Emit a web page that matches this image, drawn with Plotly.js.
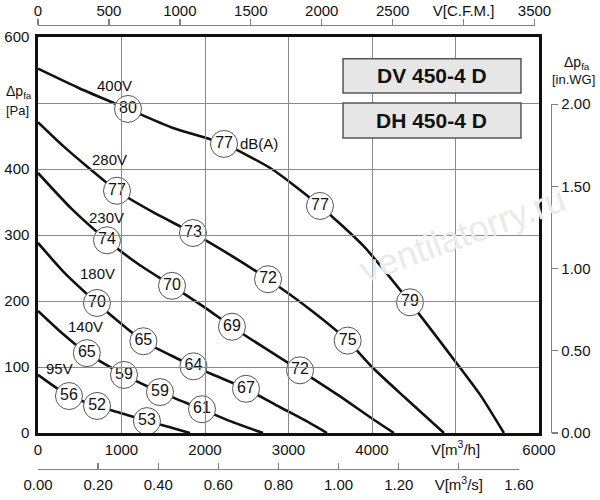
<!DOCTYPE html>
<html>
<head>
<meta charset="utf-8">
<script src="https://cdn.plot.ly/plotly-3.0.1.min.js"></script>
<style>
  html, body { margin: 0; padding: 0; background: #fff; }
  #chart { width: 600px; height: 500px; }
</style>
</head>
<body>
<div id="chart"></div>
<script>
// fan curves, flow in m3/h, pressure in Pa
var x400 = [0, 500, 1078, 1600, 2228, 2800, 3377, 3900, 4455, 5000, 5300, 5580];
var y400 = [552, 522, 491, 463, 438, 400, 344, 283, 198, 108, 57, 0];
var x280 = [0, 300, 623, 946, 1400, 1856, 2300, 2755, 3250, 3709, 4000, 4400, 4862];
var y280 = [471, 435, 400, 367, 333, 303, 270, 233, 188, 140, 100, 53, 0];
var x230 = [0, 400, 826, 1200, 1605, 2000, 2323, 2700, 3138, 3600, 4000, 4263];
var y230 = [394, 340, 292, 256, 223, 190, 161, 130, 95, 57, 22, 0];
var x180 = [0, 300, 706, 1000, 1262, 1600, 1862, 2200, 2491, 2900, 3200, 3461];
var y180 = [288, 245, 197, 165, 139, 117, 101, 83, 67, 39, 19, 0];
var x140 = [0, 300, 585, 1030, 1461, 1964, 2300, 2695];
var y140 = [185, 150, 121, 88, 62, 36, 18, 0];
var x95 = [0, 371, 707, 1000, 1305, 1600, 1820];
var y95 = [88, 56, 41, 30, 18, 8, 0];

// sound level marks dB(A)
var dbX = [1078, 2228, 3377, 4455, 946, 1856, 2755, 3709, 826, 1605, 2323, 3138,
           706, 1262, 1862, 2491, 585, 1030, 1461, 1964, 371, 707, 1305];
var dbY = [491, 438, 344, 198, 367, 303, 233, 140, 292, 223, 161, 95,
           197, 139, 101, 67, 121, 88, 62, 36, 56, 41, 18];
var dbVal = [80, 77, 77, 79, 77, 73, 72, 75, 74, 70, 69, 72,
             70, 65, 64, 67, 65, 59, 59, 61, 56, 52, 53];

// voltage labels
var voltText = ['400V', '280V', '230V', '180V', '140V', '95V'];
var voltX = [922, 862, 826, 707, 563, 263];
var voltY = [527, 414, 327, 242, 162, 98];

// axis ticks
var mhVals = [0, 1000, 2000, 3000, 4000, 5000, 6000];
var mhText = ['0', '1000', '2000', '3000', '4000', 'V[m<sup>3</sup>/h]', '6000'];
var paVals = [0, 100, 200, 300, 400, 500, 600];
var paText = ['0', '100', '200', '300', '400', ' ', '600'];
var cfmVals = [0, 500, 1000, 1500, 2000, 2500, 3000, 3500];
var cfmText = ['0', '500', '1000', '1500', '2000', '2500', 'V[C.F.M.]', '3500'];
var msVals = [0, 0.2, 0.4, 0.6, 0.8, 1.0, 1.2, 1.4, 1.6];
var msText = ['0.00', '0.20', '0.40', '0.60', '0.80', '1.00', '1.20', 'V[m<sup>3</sup>/s]', '1.60'];
var wgVals = [0, 0.5, 1.0, 1.5, 2.0];
var wgText = ['0.00', '0.50', '1.00', '1.50', '2.00'];

var FONT = 'Arial, "Liberation Sans", sans-serif';

// pixel -> paper helpers (paper spans x 38..551, y 25..469)
function pxX(p) { return (p - 38) / 513; }
function pxY(p) { return (469 - p) / 444; }

var curves = [[x400, y400], [x280, y280], [x230, y230], [x180, y180], [x140, y140], [x95, y95]];
var data = [];

// empty traces so the extra axes get drawn (added first, below the curves)
data.push({ x: [null], y: [null], xaxis: 'x2', yaxis: 'y', hoverinfo: 'skip', showlegend: false });
data.push({ x: [null], y: [null], xaxis: 'x3', yaxis: 'y', hoverinfo: 'skip', showlegend: false });
data.push({ x: [null], y: [null], xaxis: 'x', yaxis: 'y2', hoverinfo: 'skip', showlegend: false });

curves.forEach(function (c) {
  data.push({
    x: c[0], y: c[1], type: 'scatter', mode: 'lines',
    line: { color: '#111', width: 2.6, shape: 'spline', smoothing: 0.6 },
    hoverinfo: 'skip', showlegend: false
  });
});

data.push({
  x: dbX, y: dbY, text: dbVal.map(String), type: 'scatter', mode: 'markers+text',
  marker: { size: 27, color: '#fff', line: { color: '#555', width: 1 } },
  textposition: 'middle center',
  textfont: { family: FONT, size: 16, color: '#111' },
  hoverinfo: 'skip', showlegend: false
});

var yDomLo = pxY(433), yDomHi = pxY(37);
var xDomHi = pxX(539);

function paperNote(text, px, py, size, xanchor) {
  return { x: pxX(px), y: pxY(py), xref: 'paper', yref: 'paper', xanchor: xanchor, yanchor: 'middle',
           text: text, showarrow: false, font: { family: FONT, size: size, color: '#111' } };
}

var annotations = voltText.map(function (t, i) {
  return { x: voltX[i], y: voltY[i], xref: 'x', yref: 'y', text: t, showarrow: false,
           font: { family: FONT, size: 15, color: '#111' } };
});
annotations.push({ x: 2650, y: 438, xref: 'x', yref: 'y', text: 'dB(A)', showarrow: false,
                   font: { family: FONT, size: 15, color: '#111' } });
annotations.push({ x: 4718, y: 541, xref: 'x', yref: 'y', text: '<b>DV 450-4 D</b>', showarrow: false,
                   font: { family: FONT, size: 21, color: '#111' } });
annotations.push({ x: 4718, y: 474, xref: 'x', yref: 'y', text: '<b>DH 450-4 D</b>', showarrow: false,
                   font: { family: FONT, size: 21, color: '#111' } });
annotations.push(paperNote('\u0394p<sub>fa</sub>', 4, 92, 14, 'left'));
annotations.push(paperNote('[Pa]', 4, 110, 13, 'left'));
annotations.push(paperNote('\u0394p<sub>fa</sub>', 577, 63, 14, 'center'));
annotations.push(paperNote('[in.WG]', 573, 79, 13, 'center'));
annotations.push({ x: 5078, y: 300, xref: 'x', yref: 'y', text: 'ventilatorry.ru', showarrow: false,
                   textangle: -20, font: { family: FONT, size: 36, color: '#eaeaea' } });

var boxLine = { color: '#555', width: 1.5 };
var shapes = [
  { type: 'rect', xref: 'x', yref: 'y', x0: 3653, x1: 5784, y0: 515, y1: 567,
    fillcolor: '#e6e6e6', line: boxLine, layer: 'above' },
  { type: 'rect', xref: 'x', yref: 'y', x0: 3653, x1: 5784, y0: 447, y1: 500,
    fillcolor: '#e6e6e6', line: boxLine, layer: 'above' }
];

var tickFont = { family: FONT, size: 15, color: '#111' };

var layout = {
  width: 600, height: 500,
  margin: { l: 38, r: 49, t: 25, b: 31, pad: 0 },
  paper_bgcolor: '#fff', plot_bgcolor: 'rgba(0,0,0,0)',
  hovermode: false, showlegend: false,
  xaxis: {
    domain: [0, xDomHi], anchor: 'y', range: [0, 6000],
    tickmode: 'array', tickvals: mhVals, ticktext: mhText,
    ticks: '', ticklabelstandoff: 1, tickfont: tickFont,
    showgrid: true, gridcolor: '#8a8a8a', gridwidth: 1, zeroline: false,
    showline: true, linecolor: '#111', linewidth: 2.6, mirror: true
  },
  yaxis: {
    domain: [yDomLo, yDomHi], anchor: 'x', range: [0, 600],
    tickmode: 'array', tickvals: paVals, ticktext: paText,
    ticks: '', ticklabelstandoff: 3, tickfont: tickFont,
    showgrid: true, gridcolor: '#8a8a8a', gridwidth: 1, zeroline: false,
    showline: true, linecolor: '#111', linewidth: 2.6, mirror: true
  },
  xaxis2: {
    domain: [0, xDomHi * 3500 / (6000 / 1.699)], anchor: 'free', position: 1, side: 'top',
    range: [0, 3500], tickmode: 'array', tickvals: cfmVals, ticktext: cfmText,
    ticks: 'outside', ticklen: 6, tickcolor: '#808080', tickwidth: 1.3, tickfont: tickFont,
    ticklabelstandoff: -3,
    showgrid: false, zeroline: false, showline: true, linecolor: '#808080', linewidth: 1.3
  },
  xaxis3: {
    domain: [0, xDomHi * 1.6 * 3600 / 6000], anchor: 'free', position: 0, side: 'bottom',
    range: [0, 1.6], tickmode: 'array', tickvals: msVals, ticktext: msText,
    ticks: 'inside', ticklen: 6, tickcolor: '#808080', tickwidth: 1.3, tickfont: tickFont,
    ticklabelstandoff: 2,
    showgrid: false, zeroline: false, showline: true, linecolor: '#808080', linewidth: 1.3
  },
  yaxis2: {
    domain: [yDomLo, yDomLo + (2.0 * 249.09 / 600) * (yDomHi - yDomLo)],
    anchor: 'free', position: 1, side: 'right',
    range: [0, 2.0], tickmode: 'array', tickvals: wgVals, ticktext: wgText,
    ticks: 'outside', ticklen: 6, tickcolor: '#808080', tickwidth: 1.3, tickfont: tickFont,
    showgrid: false, zeroline: false, showline: true, linecolor: '#808080', linewidth: 1.3
  },
  shapes: shapes,
  annotations: annotations
};

Plotly.newPlot('chart', data, layout, { displayModeBar: false, staticPlot: true });
</script>
</body>
</html>
